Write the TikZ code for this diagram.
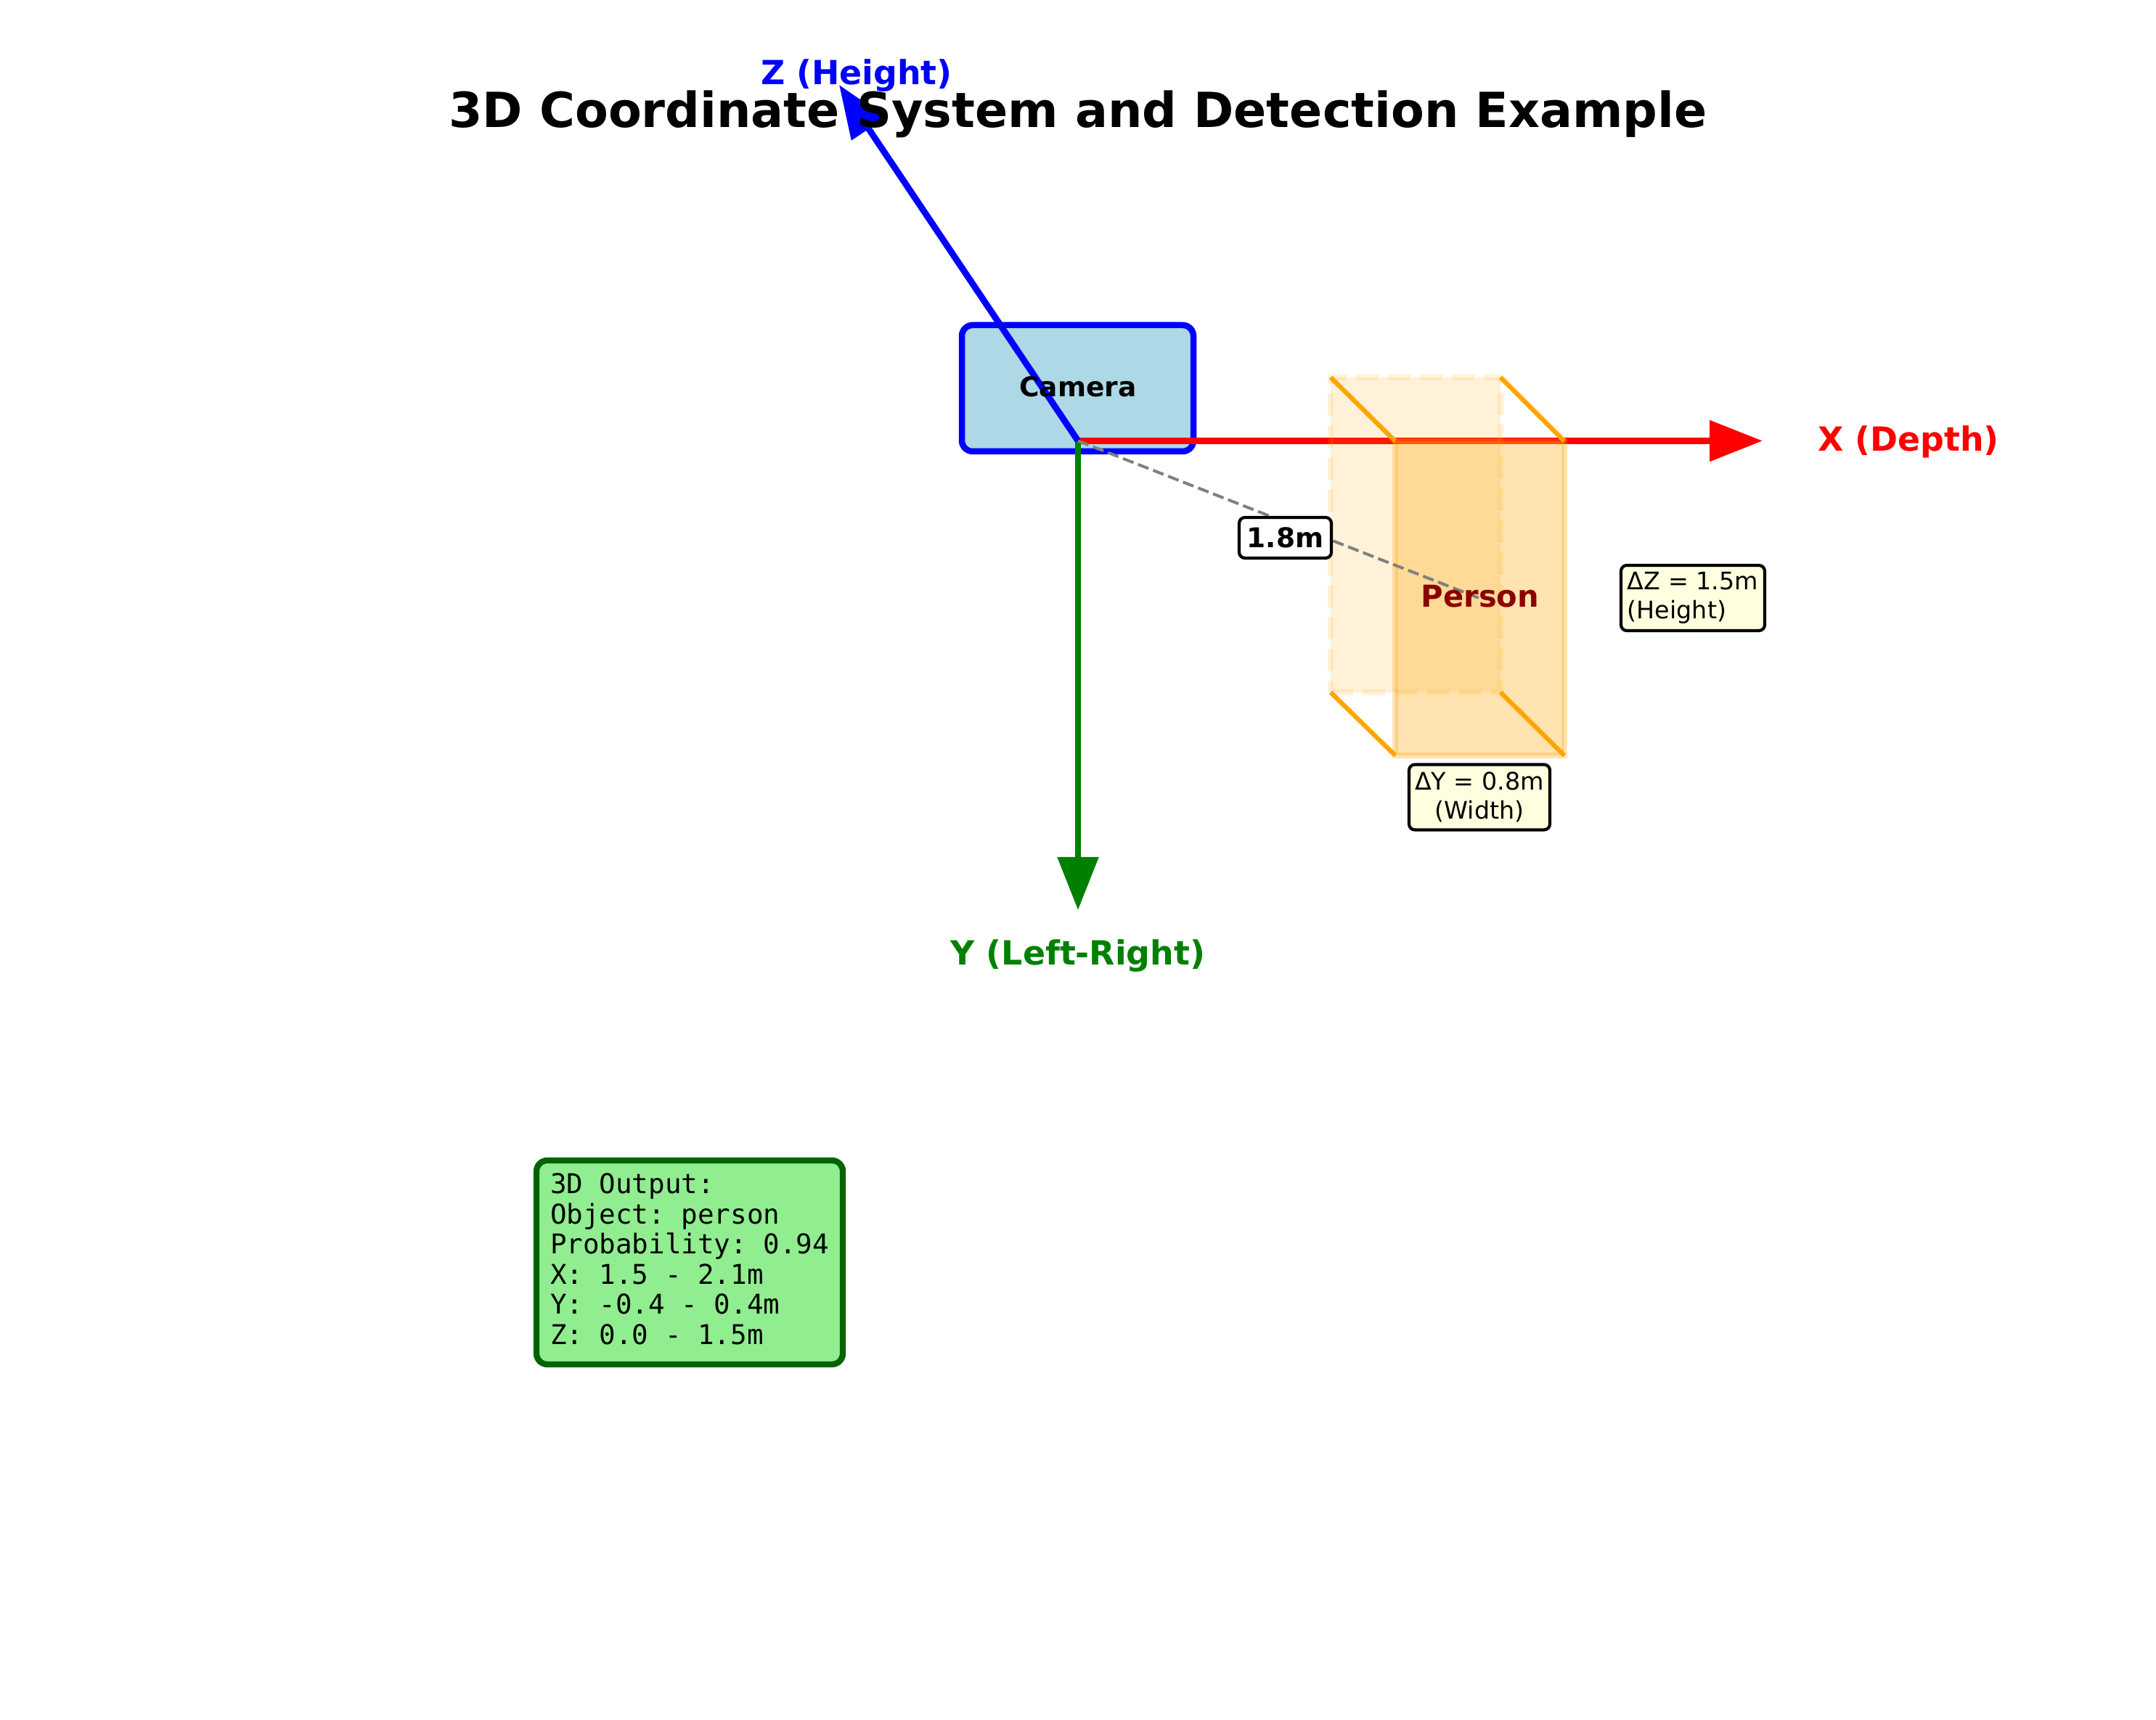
\documentclass[tikz,border=0pt]{standalone}
\usepackage{fontspec}
\setmainfont{DejaVu Sans}
\setmonofont{DejaVu Sans Mono}
\usetikzlibrary{positioning,arrows.meta,calc}
\definecolor{axisgreen}{HTML}{008000}
\definecolor{camfill}{HTML}{ADD8E6}
\definecolor{boxorange}{HTML}{FFA500}
\definecolor{notefill}{HTML}{FFFFE0}
\definecolor{outfill}{HTML}{90EE90}
\definecolor{outedge}{HTML}{006400}
\definecolor{persontext}{HTML}{8B0000}
\tikzset{
  axisarrow/.style={-{Triangle[length=7.3mm,width=5.5mm]}, line width=0.88mm},
  axislabel/.style={font=\fontsize{13.04}{15.6}\selectfont\bfseries, inner sep=0pt},
  camerabox/.style={draw=blue, fill=camfill, line width=0.85mm, rounded corners=1.5mm, minimum width=3.19cm, minimum height=1.74cm, inner sep=0pt},
  backbox/.style={draw=boxorange, fill=boxorange, fill opacity=0.15, draw opacity=0.15, line width=0.83mm, dash pattern=on 3.1mm off 1.3mm, minimum width=2.34cm, minimum height=4.34cm, inner sep=0pt, outer sep=0pt},
  frontbox/.style={draw=boxorange, fill=boxorange, fill opacity=0.3, draw opacity=0.3, line width=0.83mm, minimum width=2.33cm, minimum height=4.33cm, inner sep=0pt, outer sep=0pt},
  edgeline/.style={draw=boxorange, line width=0.63mm},
  distline/.style={draw=black!50, line width=0.4mm, dash pattern=on 1.55mm off 0.67mm},
  distbox/.style={draw, fill=white, line width=0.42mm, rounded corners=0.8mm, minimum width=1.27cm, minimum height=0.56cm, inner sep=0pt, font=\fontsize{10.67}{12.8}\selectfont\bfseries},
  notebox/.style={draw, fill=notefill, line width=0.42mm, rounded corners=0.8mm, minimum height=0.9cm, inner sep=0pt, font=\fontsize{9.48}{11.5}\selectfont},
  outbox/.style={draw=outedge, fill=outfill, line width=0.83mm, rounded corners=1.5mm, minimum width=4.22cm, minimum height=2.81cm, inner sep=0pt, align=left, text depth=1mm, font=\fontsize{10.67}{11.82}\selectfont\ttfamily}
}
\begin{document}
\begin{tikzpicture}
  \useasboundingbox (0,0) rectangle (29.7,23.7);
  \coordinate (origin) at (14.85,17.625);
  \coordinate (xtip) at (24.28,17.625);
  \coordinate (ytip) at (14.85,11.16);
  \coordinate (ztip) at (11.56,22.53);

  \node[camerabox] (camera) at (14.845,18.35) {};
  \draw[axisarrow, red] (origin) -- (xtip);
  \draw[axisarrow, axisgreen] (origin) -- (ytip);
  \draw[axisarrow, blue] (origin) -- (ztip);
  \node[font=\fontsize{10.67}{12.8}\selectfont\bfseries, inner sep=0pt] (cameratext) at (14.85,18.37) {Camera};

  % person box
  \node[backbox] (back) at (19.5,16.33) {};
  \node[frontbox] (front) at (20.385,15.455) {};
  \draw[edgeline] (back.north west) -- (front.north west);
  \draw[edgeline] (back.north east) -- (front.north east);
  \draw[edgeline] (back.south west) -- (front.south west);
  \draw[edgeline] (back.south east) -- (front.south east);
  \draw[distline] (origin) -- (front.center);
  \node[text=persontext, font=\fontsize{11.86}{14.2}\selectfont\bfseries, inner sep=0pt] (person) at (20.39,15.48) {Person};

  \node[distbox] (dist) at (17.705,16.29) {1.8m};
  \node[notebox, align=left, minimum width=1.98cm] (dz) at (23.32,15.46) {ΔZ = 1.5m\\(Height)};
  \node[notebox, align=center, minimum width=1.94cm] (dy) at (20.38,12.715) {ΔY = 0.8m\\(Width)};

  \node[axislabel, text=red] (xlabel) at (26.29,17.61) {X (Depth)};
  \node[axislabel, text=axisgreen] (ylabel) at (14.85,10.53) {Y (Left-Right)};
  \node[axislabel, text=blue] (zlabel) at (11.80,22.66) {Z (Height)};

  \node[outbox] (output) at (9.50,6.305) {3D Output:\\Object: person\\Probability: 0.94\\X: 1.5 - 2.1m\\Y: -0.4 - 0.4m\\Z: 0.0 - 1.5m};
  \node[font=\fontsize{18.97}{22.8}\selectfont\bfseries, inner sep=0pt] (title) at (14.85,22.13) {3D Coordinate System and Detection Example};
\end{tikzpicture}
\end{document}
